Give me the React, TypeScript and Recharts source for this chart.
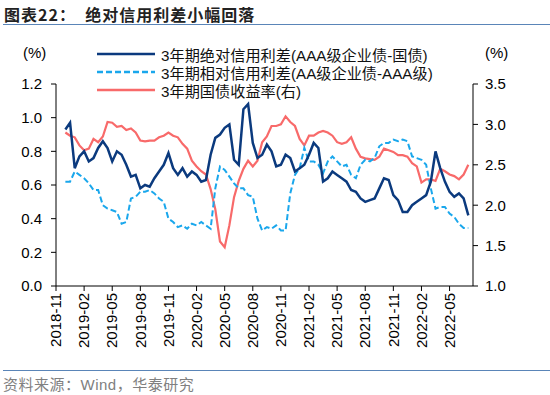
import { LineChart, Line, XAxis, YAxis } from 'recharts'

// month offsets from 2018-11, half-month steps
const MONTHS = [
  1, 1.5, 2, 2.5, 3, 3.5, 4, 4.5, 5, 5.5, 6, 6.5, 7, 7.5, 8, 8.5, 9, 9.5, 10, 10.5,
  11, 11.5, 12, 12.5, 13, 13.5, 14, 14.5, 15, 15.5, 16, 16.5, 17, 17.5, 18, 18.5, 19, 19.5, 20, 20.5,
  21, 21.5, 22, 22.5, 23, 23.5, 24, 24.5, 25, 25.5, 26, 26.5, 27, 27.5, 28, 28.5, 29, 29.5, 30, 30.5,
  31, 31.5, 32, 32.5, 33, 33.5, 34, 34.5, 35, 35.5, 36, 36.5, 37, 37.5, 38, 38.5, 39, 39.5, 40, 40.5,
  41, 41.5, 42, 42.5, 43, 43.5, 44,
]

// 3年期绝对信用利差 (AAA级企业债-国债), %
const ABS_SPREAD = [
  0.93, 0.97, 0.70, 0.77, 0.80, 0.74, 0.76, 0.82, 0.86, 0.82, 0.74, 0.80, 0.78, 0.72, 0.65, 0.66, 0.58, 0.60, 0.59, 0.64,
  0.68, 0.72, 0.79, 0.70, 0.66, 0.70, 0.65, 0.68, 0.66, 0.62, 0.63, 0.78, 0.88, 0.90, 0.94, 0.96, 0.75, 0.72, 1.05, 1.08,
  0.85, 0.76, 0.78, 0.84, 0.80, 0.71, 0.72, 0.78, 0.76, 0.68, 0.70, 0.72, 0.78, 0.85, 0.82, 0.62, 0.64, 0.68, 0.66, 0.64,
  0.62, 0.57, 0.56, 0.52, 0.50, 0.51, 0.52, 0.58, 0.64, 0.63, 0.54, 0.51, 0.44, 0.44, 0.48, 0.50, 0.52, 0.54, 0.62, 0.80,
  0.70, 0.62, 0.56, 0.53, 0.55, 0.52, 0.42,
]

// 3年期相对信用利差 (AA级企业债-AAA级), %
const REL_SPREAD = [
  0.62, 0.62, 0.68, 0.66, 0.64, 0.61, 0.57, 0.57, 0.48, 0.46, 0.45, 0.44, 0.37, 0.38, 0.52, 0.53, 0.56, 0.56, 0.57, 0.55,
  0.52, 0.50, 0.40, 0.38, 0.35, 0.36, 0.34, 0.37, 0.36, 0.38, 0.36, 0.34, 0.58, 0.71, 0.69, 0.65, 0.61, 0.58, 0.58, 0.54,
  0.53, 0.40, 0.33, 0.35, 0.34, 0.36, 0.33, 0.33, 0.55, 0.66, 0.70, 0.82, 0.74, 0.74, 0.72, 0.67, 0.74, 0.77, 0.74, 0.71,
  0.72, 0.66, 0.64, 0.72, 0.75, 0.74, 0.76, 0.83, 0.85, 0.85, 0.87, 0.86, 0.87, 0.86, 0.77, 0.76, 0.75, 0.72, 0.58, 0.46,
  0.47, 0.47, 0.43, 0.41, 0.37, 0.345, 0.345,
]

// 3年期国债收益率 (右轴), %
const CGB_3Y = [
  2.90, 2.86, 2.84, 2.74, 2.68, 2.70, 2.82, 2.78, 2.85, 3.03, 3.02, 2.97, 2.98, 2.93, 2.95, 2.90, 2.80, 2.79, 2.80, 2.80,
  2.84, 2.86, 2.90, 2.86, 2.84, 2.76, 2.70, 2.55, 2.48, 2.42, 2.38, 2.20, 1.95, 1.55, 1.48, 1.75, 2.10, 2.30, 2.45, 2.55,
  2.48, 2.55, 2.78, 2.85, 2.98, 2.98, 3.00, 3.10, 3.03, 2.98, 2.82, 2.74, 2.86, 2.86, 2.90, 2.92, 2.90, 2.86, 2.78, 2.76,
  2.78, 2.84, 2.70, 2.60, 2.58, 2.57, 2.56, 2.60, 2.70, 2.68, 2.66, 2.62, 2.62, 2.60, 2.52, 2.48, 2.28, 2.32, 2.32, 2.30,
  2.45, 2.42, 2.38, 2.36, 2.32, 2.38, 2.50,
]

const TICK_LABELS = [
  '2018-11', '2019-02', '2019-05', '2019-08', '2019-11', '2020-02', '2020-05', '2020-08',
  '2020-11', '2021-02', '2021-05', '2021-08', '2021-11', '2022-02', '2022-05',
]
const TICK_POS = TICK_LABELS.map((_, i) => i * 3)
const LEFT_TICKS = [0, 0.2, 0.4, 0.6, 0.8, 1.0, 1.2]
const RIGHT_TICKS = [1, 1.5, 2, 2.5, 3, 3.5]

const NAVY = '#0b3a7e'
const SKY = '#1aa7ec'
const RED = '#f86a6a'
const FONT = '"Liberation Sans", Arial, "Noto Sans CJK SC", sans-serif'

const data = MONTHS.map((m, i) => ({
  m,
  abs: ABS_SPREAD[i],
  rel: REL_SPREAD[i],
  cgb: CGB_3Y[i],
}))

function DateTick({ x, y, payload }: any) {
  const label = TICK_LABELS[Math.round(payload.value / 3)]
  return (
    <g transform={`translate(${x},${y})`}>
      <text transform="rotate(-90)" textAnchor="end" dy="0.35em" fontSize={15} fill="#000" fontFamily={FONT}>
        {label}
      </text>
    </g>
  )
}

const LEGEND = [
  { label: '3年期绝对信用利差(AAA级企业债-国债)', color: NAVY, dash: '' },
  { label: '3年期相对信用利差(AA级企业债-AAA级)', color: SKY, dash: '6 3' },
  { label: '3年期国债收益率(右)', color: RED, dash: '' },
]

export default function App() {
  const axisStyle = { fontSize: 15, fill: '#000', fontFamily: FONT }
  return (
    <div style={{ position: 'relative', width: 550, height: 395, background: '#fff', fontFamily: FONT }}>
      <style>{'body{margin:0}'}</style>
      <div style={{ position: 'absolute', left: 4, top: 2, fontSize: 16, letterSpacing: 1, fontWeight: 'bold', color: '#222', whiteSpace: 'nowrap', fontFamily: '"Noto Sans CJK SC", sans-serif' }}>
        图表22：&nbsp;&nbsp;绝对信用利差小幅回落
      </div>
      <div style={{ position: 'absolute', left: 3, right: 0, top: 24, height: 0, borderTop: '1.5px solid #5a85b8' }} />

      <LineChart width={550} height={395} data={data} margin={{ top: 84, right: 0, bottom: 0, left: 0 }}>
        <XAxis
          dataKey="m"
          type="number"
          domain={[0, 44.5]}
          ticks={TICK_POS}
          interval={0}
          height={109}
          tickSize={5}
          tickMargin={2}
          stroke="#000"
          tick={<DateTick />}
        />
        <YAxis
          yAxisId="left"
          domain={[0, 1.2]}
          ticks={LEFT_TICKS}
          width={56}
          tickSize={5}
          tickMargin={9}
          stroke="#000"
          tick={axisStyle}
          tickFormatter={(v: number) => v.toFixed(1)}
        />
        <YAxis
          yAxisId="right"
          orientation="right"
          domain={[1, 3.5]}
          ticks={RIGHT_TICKS}
          width={77}
          tickSize={5}
          tickMargin={7}
          stroke="#000"
          tick={axisStyle}
          tickFormatter={(v: number) => v.toFixed(1)}
        />
        <Line yAxisId="right" dataKey="cgb" stroke={RED} strokeWidth={2.2} dot={false} isAnimationActive={false} />
        <Line yAxisId="left" dataKey="rel" stroke={SKY} strokeWidth={2} strokeDasharray="6 3" dot={false} isAnimationActive={false} />
        <Line yAxisId="left" dataKey="abs" stroke={NAVY} strokeWidth={2.5} dot={false} isAnimationActive={false} />
      </LineChart>

      <div style={{ position: 'absolute', left: 23, top: 44, fontSize: 15 }}>(%)</div>
      <div style={{ position: 'absolute', left: 485, top: 44, fontSize: 15 }}>(%)</div>

      <div style={{ position: 'absolute', left: 97, top: 45 }}>
        {LEGEND.map((item) => (
          <div key={item.label} style={{ display: 'flex', alignItems: 'center', height: 18, whiteSpace: 'nowrap' }}>
            <svg width={58} height={18}>
              <line x1={0} x2={58} y1={9} y2={9} stroke={item.color} strokeWidth={2.5} strokeDasharray={item.dash} />
            </svg>
            <span style={{ marginLeft: 6, fontSize: 15.2, color: '#111' }}>{item.label}</span>
          </div>
        ))}
      </div>

      <div style={{ position: 'absolute', left: 3, right: 0, top: 370, height: 0, borderTop: '1.5px solid #5a85b8' }} />
      <div style={{ position: 'absolute', left: 3, top: 373, fontSize: 15, letterSpacing: 0.5, color: '#808080', whiteSpace: 'nowrap' }}>
        资料来源：Wind，华泰研究
      </div>
    </div>
  )
}
